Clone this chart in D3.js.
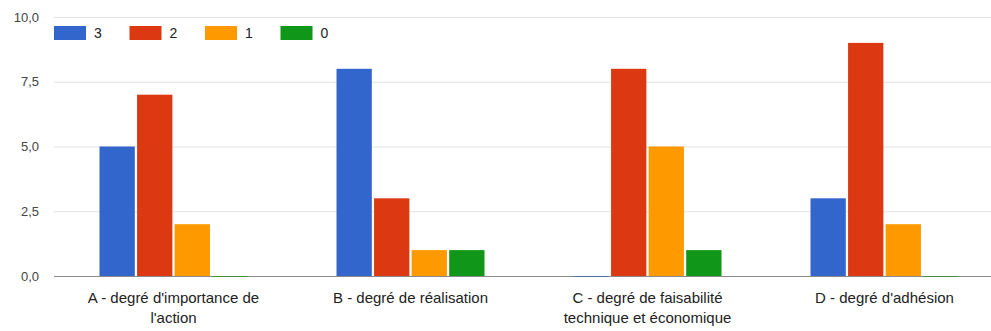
<!DOCTYPE html>
<html>
<head>
<meta charset="utf-8">
<script src="https://cdn.jsdelivr.net/npm/d3@7"></script>
<style>
  html, body { margin: 0; padding: 0; background: #fff; }
  svg { display: block; font-family: Arial, "Liberation Sans", sans-serif; }
</style>
</head>
<body>
<svg id="chart" width="991" height="331"></svg>
<script>
// Categories (x axis) and series (legend order)
const categories = [
  "A - degré d'importance de l'action",
  "B - degré de réalisation",
  "C - degré de faisabilité technique et économique",
  "D - degré d'adhésion"
];
const seriesNames = ["3", "2", "1", "0"];
const seriesColors = ["#3366cc", "#dc3912", "#ff9900", "#109618"];

// Counts per series, one value per category
const values3 = [5, 8, 0, 3];
const values2 = [7, 3, 8, 9];
const values1 = [2, 1, 5, 2];
const values0 = [0, 1, 1, 0];

const yTicks = [0, 2.5, 5, 7.5, 10];

const seriesValues = [values3, values2, values1, values0];

const svg = d3.select("#chart");

const y = d3.scaleLinear().domain([0, 10]).range([276, 17]);
const x0 = d3.scaleBand().domain(categories).range([55, 1003]).paddingInner(0).paddingOuter(0);
const groupW = 148;
const x1 = d3.scaleBand().domain(seriesNames).range([0, groupW]).paddingInner(0.06);

const fmt = v => d3.format(".1f")(v).replace(".", ",");

// Gridlines and y labels
const yAxis = d3.axisLeft(y).tickValues(yTicks).tickSize(-(1003 - 54)).tickFormat(fmt).tickPadding(16);
const gy = svg.append("g").attr("transform", "translate(54,0)").call(yAxis);
gy.select(".domain").remove();
gy.selectAll(".tick line").attr("stroke", "#e3e3e3").attr("stroke-width", 1);
gy.selectAll(".tick text")
  .attr("fill", "#444")
  .attr("font-size", 13)
  .attr("x", -15);

// Baseline (drawn under the bars so zero-value bars keep their colour)
svg.append("line")
  .attr("x1", 54).attr("x2", 1003)
  .attr("y1", y(0) + 0.5).attr("y2", y(0) + 0.5)
  .attr("stroke", "#8a8a8a").attr("stroke-width", 1);

// Bars
const groups = svg.append("g").selectAll("g")
  .data(categories)
  .join("g")
  .attr("transform", d => `translate(${x0(d) + (x0.bandwidth() - groupW) / 2},0)`);

groups.selectAll("rect")
  .data((d, i) => seriesNames.map((s, k) => ({ s, k, v: seriesValues[k][i] })))
  .join("rect")
  .attr("x", d => x1(d.s))
  .attr("width", x1.bandwidth())
  .attr("y", d => d.v > 0 ? y(d.v) : y(0))
  .attr("height", d => d.v > 0 ? y(0) - y(d.v) : 1)
  .attr("fill", d => seriesColors[d.k])
  .attr("fill-opacity", d => d.v > 0 ? 1 : 0.6);

// Category labels, wrapped onto several lines
const xAxis = d3.axisBottom(x0).tickSize(0).tickPadding(0);
const gx = svg.append("g").attr("transform", `translate(0,${y(0)})`).call(xAxis);
gx.select(".domain").remove();
gx.selectAll(".tick text")
  .attr("fill", "#222")
  .attr("font-size", 15)
  .attr("dy", null)
  .attr("y", 0)
  .each(function (d) {
    const text = d3.select(this);
    const words = d.split(/\s+/);
    text.text(null);
    let line = [];
    let lineNo = 0;
    let tspan = text.append("tspan").attr("x", 0).attr("y", 27);
    for (const w of words) {
      line.push(w);
      tspan.text(line.join(" "));
      if (tspan.node().getComputedTextLength() > 195 && line.length > 1) {
        line.pop();
        tspan.text(line.join(" "));
        line = [w];
        lineNo++;
        tspan = text.append("tspan").attr("x", 0).attr("y", 27 + lineNo * 20).text(w);
      }
    }
  });

// Legend
const legend = svg.append("g").selectAll("g")
  .data(seriesNames)
  .join("g")
  .attr("transform", (d, i) => `translate(${54 + i * 75.5},26)`);
legend.append("rect")
  .attr("width", 32).attr("height", 14)
  .attr("fill", (d, i) => seriesColors[i]);
legend.append("text")
  .attr("x", 40).attr("y", 12)
  .attr("font-size", 14)
  .attr("fill", "#222")
  .text(d => d);
</script>
</body>
</html>
